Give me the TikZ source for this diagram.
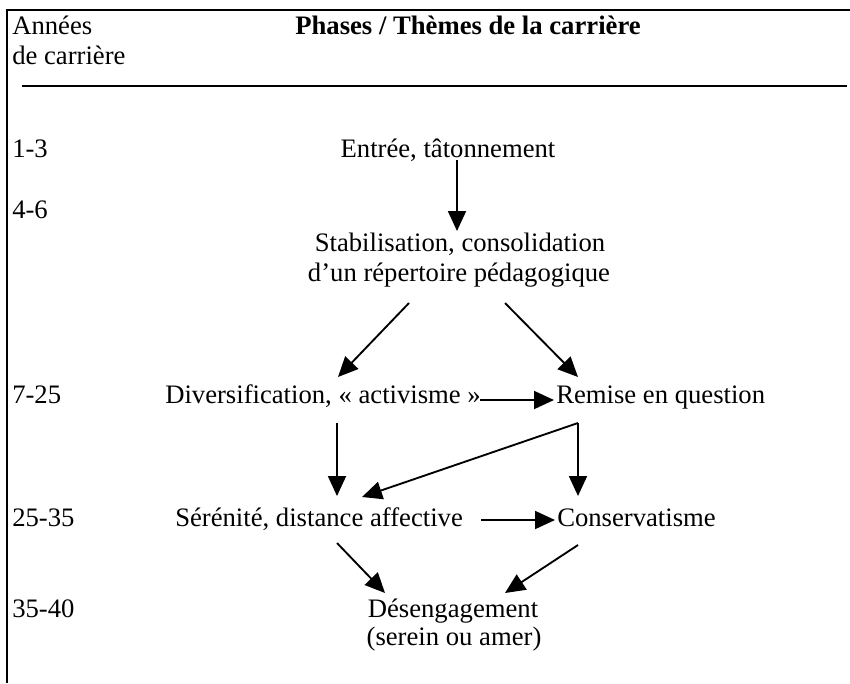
\documentclass[tikz,border=0pt]{standalone}
\usepackage{fontspec}
\setmainfont{Liberation Serif}
\usetikzlibrary{arrows.meta}
\begin{document}
\begin{tikzpicture}[x=0.75pt,y=-0.75pt,
  txt/.style={font=\fontsize{20}{22}\selectfont, inner sep=0pt, anchor=base},
  lefttxt/.style={txt, anchor=base west},
  arr/.style={line width=1.4pt, -{Triangle[length=15pt,width=13.5pt]}},
  frameline/.style={line width=1.6pt}]
\useasboundingbox (0,0) rectangle (850,683);
% frame
\coordinate (fbl) at (7,683);
\coordinate (ftl) at (7,10);
\coordinate (ftr) at (850,10);
\draw[frameline] (fbl) -- (ftl) -- (ftr);
\coordinate (sepl) at (22,86);
\coordinate (sepr) at (847,86);
\draw[frameline] (sepl) -- (sepr);
% header
\node[lefttxt] (ann1) at (12,34) {Années};
\node[lefttxt] (ann2) at (12,64) {de carrière};
\node[txt, font=\fontsize{20}{22}\selectfont\bfseries] (head) at (468,34) {Phases / Thèmes de la carrière};
% years
\node[lefttxt] (y1) at (12,157) {1-3};
\node[lefttxt] (y2) at (12,218) {4-6};
\node[lefttxt] (y3) at (12,403) {7-25};
\node[lefttxt] (y4) at (12,526) {25-35};
\node[lefttxt] (y5) at (12,617) {35-40};
% phases
\node[txt] (entree) at (448,157) {Entrée, tâtonnement};
\node[txt] (stab1) at (460,251) {Stabilisation, consolidation};
\node[txt] (stab2) at (459,281) {d’un répertoire pédagogique};
\node[txt] (divers) at (323,403) {Diversification, « activisme »};
\node[txt, anchor=base west] (remise) at (556,403) {Remise en question};
\node[txt, anchor=base west] (seren) at (175,526) {Sérénité, distance affective};
\node[txt, anchor=base west] (conserv) at (557,526) {Conservatisme};
\node[txt] (deseng1) at (453,617) {Désengagement};
\node[txt] (deseng2) at (454,645) {(serein ou amer)};
% arrow endpoints
\coordinate (a1s) at (457,160); \coordinate (a1e) at (457,231);
\coordinate (a2s) at (409,303); \coordinate (a2e) at (338,377);
\coordinate (a3s) at (505,303); \coordinate (a3e) at (578,377);
\coordinate (a4s) at (480,400); \coordinate (a4e) at (554,400);
\coordinate (a5s) at (337,423); \coordinate (a5e) at (337,496);
\coordinate (a6s) at (578,423); \coordinate (a6e) at (362,497);
\coordinate (a7e) at (578,496);
\coordinate (a8s) at (481,520); \coordinate (a8e) at (555,520);
\coordinate (a9s) at (337,543); \coordinate (a9e) at (385,593);
\coordinate (a10s) at (578,545); \coordinate (a10e) at (505,593);
\draw[arr] (a1s) -- (a1e);
\draw[arr] (a2s) -- (a2e);
\draw[arr] (a3s) -- (a3e);
\draw[arr] (a4s) -- (a4e);
\draw[arr] (a5s) -- (a5e);
\draw[arr] (a6s) -- (a6e);
\draw[arr] (a6s) -- (a7e);
\draw[arr] (a8s) -- (a8e);
\draw[arr] (a9s) -- (a9e);
\draw[arr] (a10s) -- (a10e);
\end{tikzpicture}
\end{document}
